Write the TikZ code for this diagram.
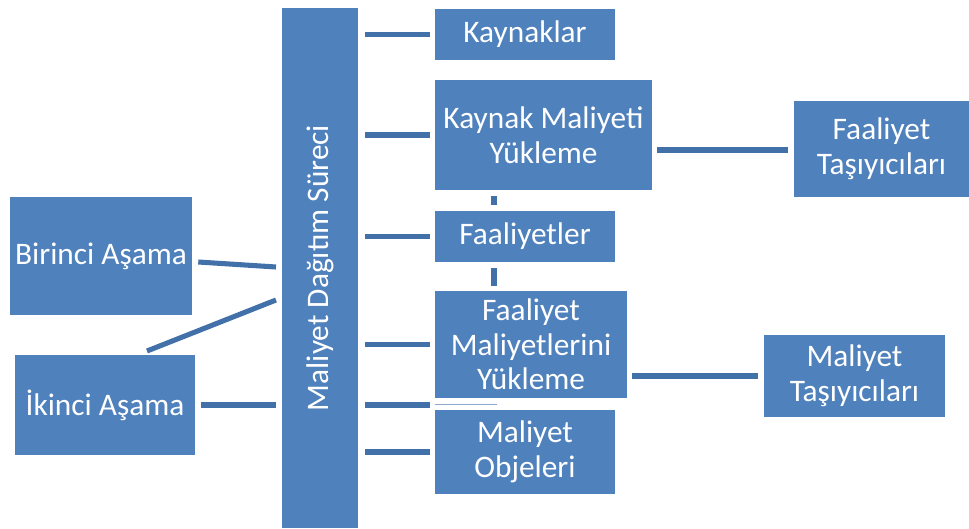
\documentclass[tikz,border=0pt]{standalone}
\usepackage{fontspec}
\setmainfont{Carlito}
\definecolor{boxblue}{HTML}{4F81BD}
\definecolor{lineblue}{HTML}{4270A8}
\tikzset{
  blockbox/.style = {fill = boxblue, text = white, inner sep = 0pt, align = center,
    font = \fontsize{23.5}{26}\selectfont},
  link/.style = {draw = lineblue, line width = 3.8pt}
}

\begin{document}
\begin{tikzpicture} [x = 0.75pt, y = -0.75pt]
\useasboundingbox (0, 0) rectangle (969, 528);
% central bar
\node[blockbox, minimum width = 57pt, minimum height = 390pt] (bar) at (320, 268) {};
\node[rotate = 90, text = white, font = \fontsize{23.5}{26}\selectfont] (bartext) at (320, 268) {Maliyet Dağıtım Süreci};
% middle column
\node[blockbox, minimum width = 135pt, minimum height = 38.25pt] (kay) at (525, 34.5) {Kaynaklar};
\node[blockbox, minimum width = 162.75pt, minimum height = 82.5pt] (kmy) at (543.5, 135) {Kaynak Maliyeti\\Yükleme};
\node[blockbox, minimum width = 135pt, minimum height = 38.25pt] (faa) at (525, 236.5) {Faaliyetler};
\node[blockbox, minimum width = 144pt, minimum height = 80.25pt] (fmy) at (531, 344.5) {Faaliyet\\Maliyetlerini\\Yükleme};
\node[blockbox, minimum width = 135pt, minimum height = 63pt] (obj) at (525, 452) {Maliyet\\Objeleri};
% right column
\node[blockbox, minimum width = 131.25pt, minimum height = 72pt] (fts) at (881.5, 149) {Faaliyet\\Taşıyıcıları};
\node[blockbox, minimum width = 135.75pt, minimum height = 61.5pt] (mts) at (854.5, 376) {Maliyet\\Taşıyıcıları};
% left column
\node[blockbox, minimum width = 136.5pt, minimum height = 88.5pt] (bir) at (101, 256) {Birinci Aşama};
\node[blockbox, minimum width = 135pt, minimum height = 75pt] (iki) at (105, 405) {İkinci Aşama};
% connectors
\coordinate (b1) at (276, 267);
\coordinate (b2) at (276, 300);
\coordinate (b3) at (276, 405);
\coordinate (i1) at (147, 351);
\draw[link] (bir.east) ++(6, 6) -- (b1);
\draw[link] (i1) -- (b2);
\draw[link] (iki.east) ++(6, 0) -- (b3);
\foreach \t in {kay, kmy, faa, fmy}
  \draw[link, shorten < = 5.25pt, shorten > = 3.75pt] (bar.east |- \t) -- (\t.west);
\draw[link, shorten < = 5.25pt, shorten > = 3.75pt] (bar.east |- 0, 405) -- (obj.west |- 0, 405);
\draw[draw = lineblue!60, line width = 0.6pt] (obj.west |- 0, 404) -- (497, 404);
\draw[link, shorten < = 5.25pt, shorten > = 3.75pt] (bar.east |- obj) -- (obj.west);
\draw[link, shorten < = 3.75pt, shorten > = 4.5pt] (kmy.east |- 0, 150) -- (fts.west |- 0, 150);
\draw[link, shorten < = 3.75pt, shorten > = 4.5pt] (fmy.east |- 0, 376) -- (mts.west |- 0, 376);
\draw[link, shorten < = 4.5pt, shorten > = 4.5pt] (494, 190) -- (494, 211);
\draw[link, shorten < = 4.5pt, shorten > = 3.75pt] (494, 262) -- (494, 291);
\end{tikzpicture}
\end{document}
